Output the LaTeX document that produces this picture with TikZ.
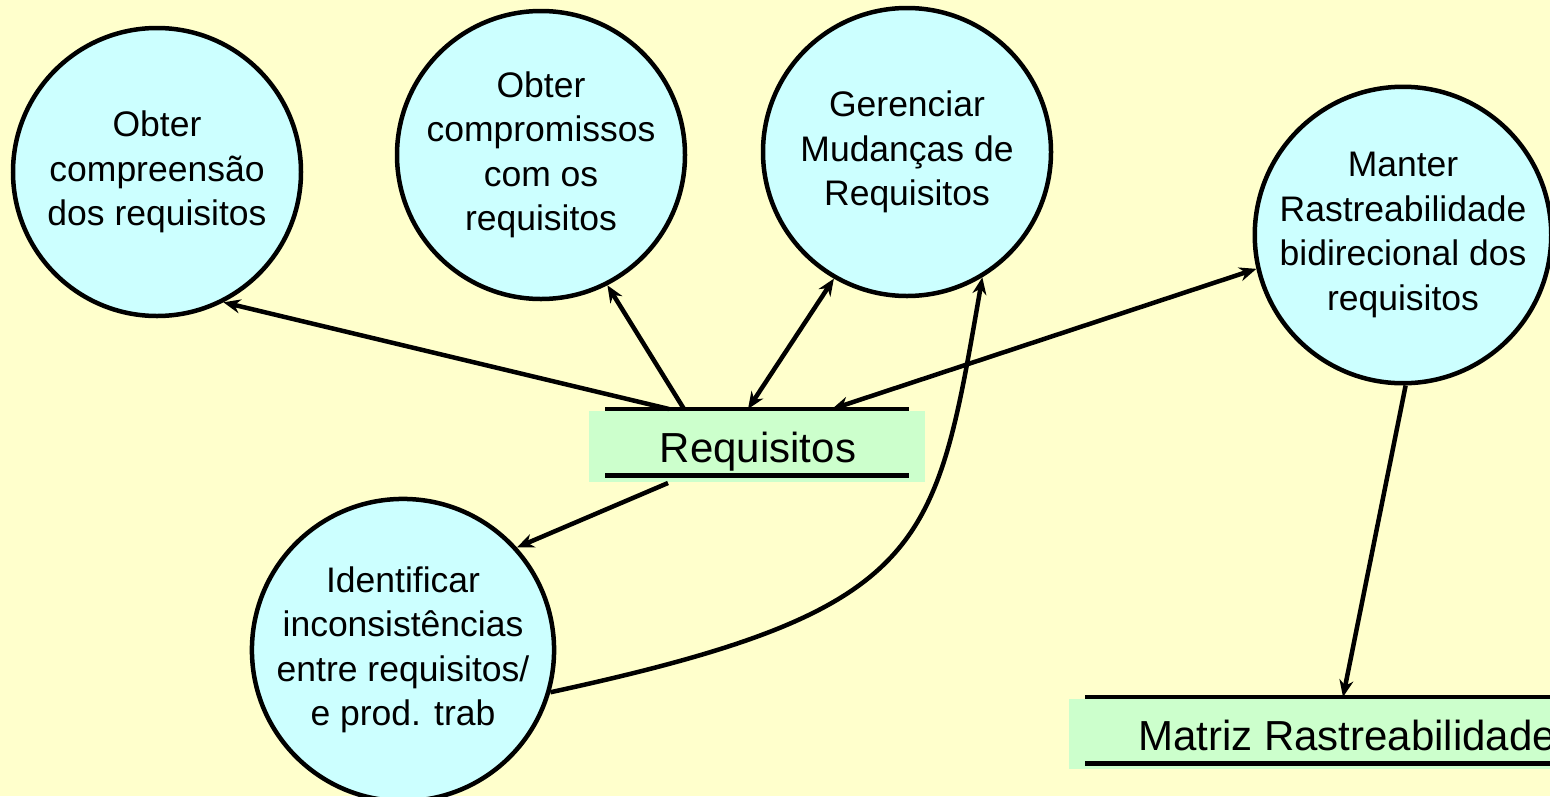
\documentclass[tikz,border=0pt]{standalone}
\usepackage{fontspec}
\setmainfont{Liberation Sans}
\usetikzlibrary{arrows.meta}
\definecolor{bgyel}{HTML}{FFFFCC}
\definecolor{circfill}{HTML}{CCFFFF}
\definecolor{boxfill}{HTML}{CCFFCC}
\tikzset{
  proc/.style={circle, draw=black, line width=4.5pt, fill=circfill, minimum size=288pt, inner sep=0pt, align=center,
    font=\fontsize{35.5pt}{44.5pt}\selectfont},
  store/.style={fill=boxfill, draw=none, inner sep=0pt},
  storetext/.style={anchor=base, font=\fontsize{42pt}{50pt}\selectfont, inner sep=0pt},
  topline/.style={line width=3.5pt},
  botline/.style={line width=5pt},
  arr/.style={line width=4.5pt, -{Stealth[length=17pt,width=14pt]}},
  darr/.style={line width=4.5pt, {Stealth[length=17pt,width=14pt]}-{Stealth[length=17pt,width=14pt]}},
}
\begin{document}
\begin{tikzpicture}[x=1pt,y=-1pt]
\fill[bgyel] (0,0) rectangle (1550,796);
\useasboundingbox (0,0) rectangle (1550,796);
\clip (0,0) rectangle (1550,796);

% circles
\node[proc] (c1) at (157,172) {Obter\\compreensão\\dos requisitos};
\node[proc] (c2) at (541,155) {Obter\\compromissos\\com os\\requisitos};
\node[proc] (c3) at (907,152) {Gerenciar\\Mudanças de\\Requisitos};
\node[proc] (c4) at (1403,235) {Manter\\Rastreabilidade\\bidirecional dos\\requisitos};
\node[proc] (c5) at (403,650) {Identificar\\inconsistências\\entre requisitos/\\e prod. trab};

% data stores
\node[store, minimum width=336pt, minimum height=71pt] (req) at (757,446.5) {};
\draw[topline] (605,409) -- (909,409);
\draw[botline] (605,475) -- (909,475);
\node[storetext] (reqt) at (758,462) {Requisitos};

\node[store, minimum width=500pt, minimum height=70pt, anchor=north west] (mat) at (1069,699) {};
\draw[topline] (1085,697) -- (1560,697);
\draw[botline] (1085,763) -- (1560,763);
\node[storetext, anchor=base west] (matt) at (1138,750) {Matriz Rastreabilidade};

% connector endpoints on the stores
\coordinate (r0) at (669,409);
\coordinate (r1) at (684,409);
\coordinate (r2) at (748,409);
\coordinate (r3) at (832,409);
\coordinate (r4) at (668,483);
\coordinate (m1) at (1343,697);

% connectors
\draw[arr] (r0) -- (c1.-63);
\draw[arr] (r1) -- (c2.-63);
\draw[darr] (r2) -- (c3.-120);
\draw[darr] (r3) -- (c4.-167);
\draw[arr] (r4) -- (c5.42);
\draw[arr] (c5.-16) .. controls (930,610) and (935,550) .. (c3.-59);
\draw[arr] (c4.-89) -- (m1);
\end{tikzpicture}
\end{document}
